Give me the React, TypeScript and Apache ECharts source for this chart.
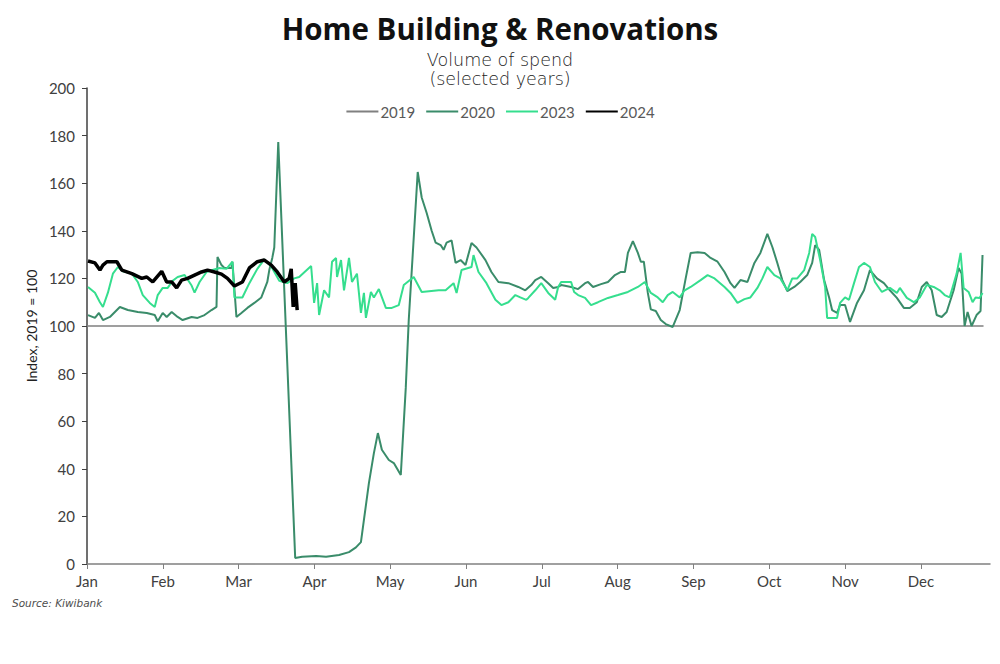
import React, { useEffect, useRef } from "react";
import * as echarts from "echarts";

const months = ["Jan", "Feb", "Mar", "Apr", "May", "Jun", "Jul", "Aug", "Sep", "Oct", "Nov", "Dec"];
const monthLength = 30.44;
const monthStarts = months.map((_, i) => i * monthLength);
const yTicks = [0, 20, 40, 60, 80, 100, 120, 140, 160, 180, 200];

// [day of year, index value]
const s2019 = [[0, 100], [30.44, 100], [60.88, 100], [91.32, 100], [121.76, 100], [152.2, 100], [182.64, 100], [213.08, 100], [243.52, 100], [273.96, 100], [304.4, 100], [334.84, 100], [360, 100]];

const s2020 = [
  [0.4, 104.6], [3.2, 103.4], [4.8, 105.5], [6.4, 102.5], [9.2, 103.8], [11.2, 105.9], [13.2, 108], [16.4, 106.7],
  [20.4, 105.9], [24, 105.5], [27.2, 104.6], [28.4, 102], [30.4, 105.5], [32, 103.8], [34, 105.9], [36.4, 103.8],
  [38.4, 102.5], [42, 103.8], [44.4, 103.4], [47.2, 104.6], [50, 106.7], [52, 108], [52.4, 129], [54, 125.6],
  [55.2, 124.4], [58, 124.4], [58.4, 127], [60, 103.8], [62, 105.5], [64.4, 107.6], [67.2, 109.7], [70, 112],
  [72.4, 118.5], [73.2, 123.5], [74.4, 128.6], [75.2, 133], [76.8, 177.3], [83.6, 2.5], [86.4, 3], [92, 3.4],
  [96, 3], [101.2, 3.8], [105.2, 5], [108, 7], [110, 9.2], [111.2, 18.5], [113.2, 34], [115.2, 46.6],
  [116.8, 55], [118.4, 48], [121.2, 43.7], [123.2, 42.4], [126, 37.4], [128, 74], [129.2, 102.5], [132.8, 164.7],
  [134.4, 154], [136.4, 147.5], [138.4, 140], [140, 135], [142, 134], [143.2, 132], [144.4, 135], [146.4, 136],
  [148, 126.5], [150, 127.7], [152, 125.6], [154.4, 134.9], [156.4, 133], [160, 127.7], [162.4, 122.7], [165.2, 118.5],
  [169.2, 118], [173.2, 116.4], [176, 115], [178.4, 117.2], [180, 119.3], [182.4, 120.6], [185.2, 118], [187.2, 116],
  [189.2, 116.4], [190.4, 117.2], [194.4, 116.4], [197.2, 115.5], [200, 118], [201.2, 118.5], [203.2, 116.4], [206.4, 117.6],
  [209.2, 118.5], [212, 121.4], [214.4, 122.7], [216, 122.7], [217.2, 130.7], [219.2, 135.7], [221.2, 130.7], [222.4, 127],
  [223.6, 127], [225.2, 113.9], [226.4, 107], [228.4, 106.3], [230.4, 102.5], [232.4, 100.8], [235.2, 99.6], [238, 106.7],
  [240.4, 120], [242.4, 130.7], [245.2, 131], [248, 130.7], [250.4, 128.6], [253.2, 127], [256, 122.7], [258.4, 118],
  [260, 116], [262.4, 119.3], [265.2, 118.5], [268, 126.5], [270.4, 130.7], [273.2, 138.7], [275.2, 133.2], [277.2, 126.5],
  [279.2, 119.3], [281.2, 114.7], [284, 116.4], [286.4, 118.5], [289.2, 121.4], [291.2, 126.5], [292.4, 134], [294, 132],
  [296, 119.3], [298, 112], [299.2, 106.7], [301.2, 105.5], [302.4, 108.8], [304.4, 108.8], [306.4, 101.7], [309.2, 109.7],
  [312, 115], [314.4, 123.5], [317.2, 120], [320, 118], [322.4, 115], [325.2, 111.8], [328, 107.6], [330.4, 107.6],
  [333.2, 110], [335.2, 116.4], [337.2, 118.5], [339.2, 115], [341.2, 104.6], [343.2, 103.8], [345.2, 105.9], [348, 115],
  [350, 124.4], [351.2, 122], [352.4, 100], [353.6, 105.9], [355.2, 100], [357.2, 104.6], [358.8, 106.3], [359.6, 129.8]
];

const s2023 = [
  [0.4, 116.4], [3.2, 114], [5.2, 110], [6.4, 108], [8.4, 114], [10.4, 122], [12.4, 124.8], [14.4, 123],
  [18, 122], [20.4, 118.5], [22.4, 113], [25.2, 109.7], [27.2, 108], [28.4, 113], [30.4, 116], [32.4, 116],
  [34.4, 119], [36.4, 120.6], [39.2, 121.4], [42, 117], [43.2, 114], [45.2, 118.5], [48, 122.7], [50.4, 123.5],
  [53.2, 124.4], [56, 124], [58.4, 127], [59.2, 112], [62.4, 112], [65.2, 118], [68.4, 124], [71.2, 128],
  [74, 125], [77.2, 119], [80.4, 118], [83.2, 120], [85.2, 120.6], [90, 125.2], [91.2, 109.7], [92.4, 118],
  [93.2, 104.6], [95.2, 115], [97.2, 112], [98.4, 127], [100, 128.6], [100.4, 120.6], [102, 127.7], [103.2, 115],
  [105.2, 128.6], [106.4, 118.5], [108.4, 122], [110, 105.5], [111.2, 113.9], [112, 103.4], [114, 114.3], [115.2, 112],
  [117.2, 115.5], [120, 107.6], [122.4, 107.6], [125.2, 108.8], [127.2, 117.2], [131.2, 120.6], [134.4, 114.3], [141.2, 115],
  [144, 115], [147.2, 118], [148.4, 113.9], [150.4, 123.5], [154.4, 124.8], [155.2, 129.8], [157.2, 122.7], [160.4, 118],
  [164, 111], [166.4, 108.8], [169.2, 110], [172, 113], [174, 112], [176.4, 111], [177.2, 111.8], [180, 115],
  [182.4, 118], [185.2, 113.9], [188, 111], [189.2, 116.4], [190.4, 118.5], [194.4, 118.5], [195.6, 114.3], [197.2, 113],
  [200, 111.8], [202.4, 108.8], [205.2, 110], [209.2, 111.8], [213.2, 113], [217.2, 114.3], [221.2, 116.4], [224, 118.5],
  [226.4, 113.9], [229.2, 112], [231.2, 110], [233.2, 113], [235.2, 114.3], [238, 112], [240, 115], [242.4, 116.4],
  [246.4, 119.3], [249.2, 121.4], [252, 120], [256, 116.4], [258.4, 113.9], [261.2, 109.7], [264, 111.3], [266.4, 112],
  [269.2, 116], [271.2, 120], [273.2, 124.8], [276, 121.4], [278.4, 120], [281.2, 115], [283.2, 120], [285.2, 120],
  [288, 123.5], [290, 130.7], [291.2, 138.7], [292.4, 137.4], [294.4, 127.7], [296.4, 116.4], [297.2, 103.4], [301.2, 103.4],
  [302.4, 109.7], [304.4, 112], [306, 111], [308, 118], [310, 124.8], [312, 126.5], [314.4, 124.8], [316.4, 118.5],
  [319.2, 114.3], [322.4, 116], [325.2, 113.9], [326.4, 116], [329.2, 111.8], [332, 110], [334.4, 112], [337.2, 117.2],
  [340, 116.4], [342.4, 115], [344.4, 113], [346.4, 112], [349.2, 122], [350.8, 130.7], [352, 116], [354, 114.3],
  [355.6, 110], [356.8, 112], [358.4, 111.8], [359.6, 113.9]
];

const s2024 = [
  [0.4, 127.3], [3.2, 126.5], [5.2, 123.5], [6.4, 125.6], [8, 127], [12, 127], [14, 123.5], [18, 122],
  [22, 120], [24, 120.6], [26.4, 118.5], [30, 123], [32, 118.5], [34, 118.5], [36, 116], [38, 119.3],
  [40.4, 120], [43.2, 121.4], [46, 122.7], [48.4, 123.5], [51.2, 122.7], [54, 121.8], [56.4, 120], [59.2, 116.8],
  [62.4, 118.5], [65.2, 124.4], [68.4, 127], [71.2, 127.7], [74, 125.6], [76.4, 122.7], [79.2, 118.5], [81.2, 120],
  [82, 124], [82.8, 108], [83.6, 118], [84.4, 106.7]
];

const FONT = "Lato, 'Open Sans', sans-serif";
const WIDE = "'DejaVu Sans', sans-serif";

export default function App() {
  const ref = useRef<HTMLDivElement>(null);
  useEffect(() => {
    if (!ref.current) return;
    const chart = echarts.init(ref.current, undefined, { renderer: "svg" });
    const lineSeries = (name: string, data: number[][], color: string, width: number, z: number) => ({
      name,
      type: "line",
      data,
      symbol: "none",
      showSymbol: false,
      z,
      lineStyle: { color, width },
      itemStyle: { color },
    });
    chart.setOption({
      animation: false,
      backgroundColor: "#ffffff",
      textStyle: { fontFamily: FONT },
      title: [
        {
          text: "Home Building & Renovations",
          left: "center",
          top: 8,
          textStyle: { fontFamily: "'Open Sans', sans-serif", fontSize: 29.5, fontWeight: "bold", color: "#111111" },
        },
        {
          text: "Volume of spend\n(selected years)",
          left: "center",
          top: 45,
          textStyle: { fontFamily: WIDE, fontSize: 17.5, fontWeight: 200, color: "#222222", lineHeight: 19 },
        },
      ],
      legend: {
        top: 99,
        left: "center",
        itemWidth: 32,
        itemHeight: 10,
        itemGap: 10,
        itemStyle: { opacity: 0 },
        textStyle: { fontFamily: FONT, fontSize: 15, color: "#595959", padding: [0, 0, 0, -3] },
        data: ["2019", "2020", "2023", "2024"],
      },
      grid: { left: 87, right: 10, top: 88, bottom: 100, containLabel: false },
      xAxis: {
        type: "value",
        min: 0,
        max: 362.6,
        axisLine: { show: true, lineStyle: { color: "#808080", width: 1.5 } },
        axisTick: { show: true, customValues: monthStarts, length: 5, lineStyle: { color: "#808080" } },
        axisLabel: {
          customValues: monthStarts,
          formatter: (v: number) => months[Math.round(v / monthLength)] ?? "",
          fontFamily: FONT,
          fontSize: 15,
          color: "#404040",
          margin: 9,
        },
        splitLine: { show: false },
      },
      yAxis: {
        type: "value",
        min: 0,
        max: 200,
        interval: 20,
        name: "Index, 2019 = 100",
        nameLocation: "middle",
        nameGap: 48,
        nameTextStyle: { fontFamily: FONT, fontSize: 14, color: "#222222" },
        axisLine: { show: true, lineStyle: { color: "#404040", width: 1.5 } },
        axisTick: { show: true, length: 5, lineStyle: { color: "#404040" } },
        axisLabel: { fontFamily: FONT, fontSize: 15, color: "#404040", margin: 12, customValues: yTicks },
        splitLine: { show: false },
      },
      graphic: [
        {
          type: "text",
          left: 12,
          top: 597,
          style: { text: "Source: Kiwibank", font: "italic 10.5px " + WIDE, fill: "#4d4d4d" },
        },
      ],
      series: [
        lineSeries("2019", s2019, "#808080", 1.5, 1),
        lineSeries("2020", s2020, "#3a8c6a", 2, 2),
        lineSeries("2023", s2023, "#35de8e", 2, 3),
        lineSeries("2024", s2024, "#000000", 3.5, 4),
      ],
    });
    return () => chart.dispose();
  }, []);
  return <div ref={ref} style={{ position: "absolute", left: 0, top: 0, width: 1000, height: 664 }} />;
}
